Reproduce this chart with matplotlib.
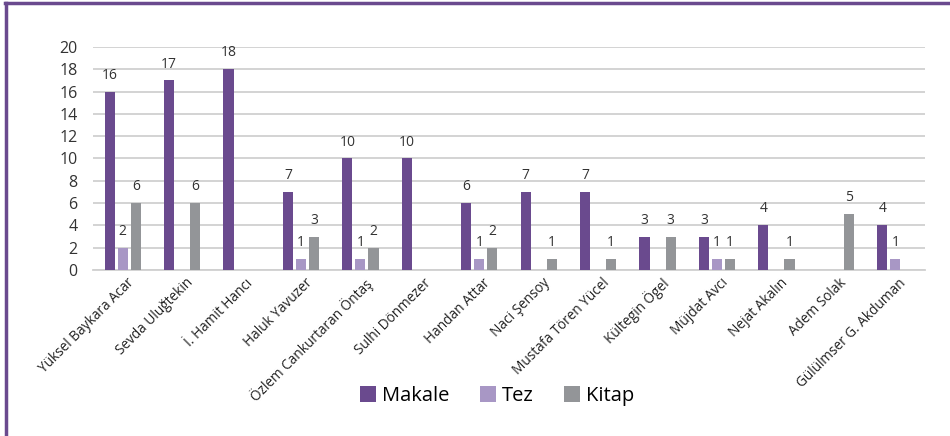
import numpy as np
import matplotlib.pyplot as plt
from matplotlib.lines import Line2D

plt.rcParams['font.family'] = ['Open Sans', 'DejaVu Sans']

# authors and counts per type of work
authors = ['Yüksel Baykara Acar', 'Sevda Uluğtekin', 'İ. Hamit Hancı', 'Haluk Yavuzer',
           'Özlem Cankurtaran Öntaş', 'Sulhi Dönmezer', 'Handan Attar', 'Naci Şensoy',
           'Mustafa Tören Yücel', 'Kültegin Ögel', 'Müjdat Avcı', 'Nejat Akalın',
           'Adem Solak', 'Gülülmser G. Akduman']
makale = [16, 17, 18, 7, 10, 10, 6, 7, 7, 3, 3, 4, 0, 4]
tez = [2, 0, 0, 1, 1, 0, 1, 0, 0, 0, 1, 0, 0, 1]
kitap = [6, 6, 0, 3, 2, 0, 2, 1, 1, 3, 1, 1, 5, 0]
yticks = [0, 2, 4, 6, 8, 10, 12, 14, 16, 18, 20]

series = [('Makale', makale, '#6a4a8e'),
          ('Tez', tez, '#a897c5'),
          ('Kitap', kitap, '#939598')]

fig = plt.figure(figsize=(9.5, 4.36), dpi=100)
ax = fig.add_axes([93/950, 1 - 270/436, (925-93)/950, (270-47)/436])

x = np.arange(len(authors))
w = 0.17
step = 0.22
for i, (name, vals, col) in enumerate(series):
    vals = np.array(vals, dtype=float)
    pos = x + (i - 1) * step
    ax.bar(pos, vals, width=w, color=col, label=name, zorder=3)
    for p, v in zip(pos, vals):
        if v > 0:
            ax.text(p, v + 0.8, f'{int(v)}', ha='center', va='bottom',
                    fontsize=10, color='#333333')

ax.set_xlim(-0.5, len(authors) - 0.5)
ax.set_ylim(0, 20)
ax.set_yticks(yticks)
ax.yaxis.grid(True, color='#d0d0d0', linewidth=1.3, zorder=0)
ax.tick_params(axis='y', length=0, labelsize=11.5, colors='#333333', pad=11)
ax.tick_params(axis='x', length=0, pad=4)
ax.set_xticks(x + 0.06)
ax.set_xticklabels(authors, rotation=45, ha='right', rotation_mode='anchor',
                   fontsize=9.8, color='#222222')
for s in ['top', 'right', 'left']:
    ax.spines[s].set_visible(False)
ax.spines['bottom'].set_color('#d0d0d0')
ax.spines['bottom'].set_linewidth(1.3)

leg = fig.legend(loc='center', bbox_to_anchor=(497/950, 1 - 396/436), ncol=3,
                 frameon=False, fontsize=14.5, handlelength=0.8, handleheight=0.8,
                 handletextpad=0.3, columnspacing=1.5)

# purple frame on top and left edges
fig.add_artist(Line2D([5/950, 1], [1 - 3.5/436, 1 - 3.5/436], color='#6a4a8e', linewidth=2.5))
fig.add_artist(Line2D([6/950, 6/950], [0, 1 - 3/436], color='#6a4a8e', linewidth=2.5))

fig.savefig('out.png', dpi=100)
